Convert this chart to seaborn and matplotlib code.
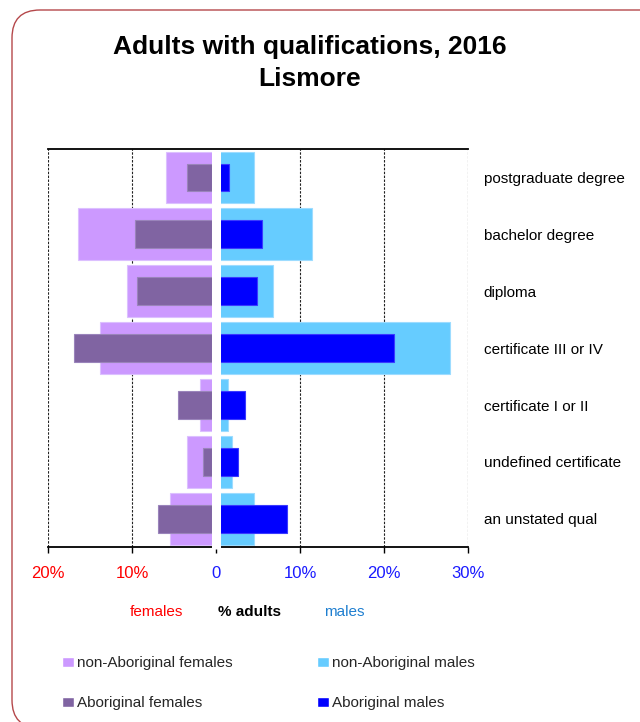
import matplotlib
matplotlib.use("Agg")
import matplotlib.pyplot as plt
import seaborn as sns
import pandas as pd
from matplotlib.patches import Patch, FancyBboxPatch

# Share of adults (%) by highest qualification, Lismore 2016
categories = [
    "postgraduate degree",
    "bachelor degree",
    "diploma",
    "certificate III or IV",
    "certificate I or II",
    "undefined certificate",
    "an unstated qual",
]
non_ab_females = [6.0, 16.5, 10.6, 13.9, 2.0, 3.5, 5.5]
ab_females = [3.5, 9.7, 9.5, 17.0, 4.6, 1.6, 7.0]
non_ab_males = [4.5, 11.4, 6.8, 27.8, 1.4, 1.9, 4.5]
ab_males = [1.5, 5.4, 4.8, 21.1, 3.4, 2.6, 8.4]

tick_values = [-20, -10, 0, 10, 20, 30]
tick_labels = ["20%", "10%", "0", "10%", "20%", "30%"]

COL_NAF = "#cc99ff"
COL_AF = "#8064a2"
COL_NAM = "#66ccff"
COL_AM = "#0000ff"

sns.set_theme(style="white")
plt.rcParams["font.family"] = ["Liberation Sans", "DejaVu Sans"]

df = pd.DataFrame({
    "qual": categories,
    "naf": [-v for v in non_ab_females],
    "af": [-v for v in ab_females],
    "nam": non_ab_males,
    "am": ab_males,
})

W, H = 640, 722
fig = plt.figure(figsize=(W / 100, H / 100), dpi=100)
ax = fig.add_axes([48.3 / W, 1 - 547.3 / H, 420 / W, 398.3 / H])

# wide bars behind, narrow bars in front
sns.barplot(data=df, x="naf", y="qual", order=categories, orient="h", color=COL_NAF,
            saturation=1, width=0.91, errorbar=None, edgecolor="#dcc0ff", linewidth=0.8, ax=ax)
sns.barplot(data=df, x="nam", y="qual", order=categories, orient="h", color=COL_NAM,
            saturation=1, width=0.91, errorbar=None, edgecolor="#9ddcff", linewidth=0.8, ax=ax)
sns.barplot(data=df, x="af", y="qual", order=categories, orient="h", color=COL_AF,
            saturation=1, width=0.49, errorbar=None, edgecolor="#9a84bb", linewidth=0.8, ax=ax)
sns.barplot(data=df, x="am", y="qual", order=categories, orient="h", color=COL_AM,
            saturation=1, width=0.49, errorbar=None, edgecolor="#3a3aff", linewidth=0.8, ax=ax)

ax.set_xlim(-20, 30)
ax.set_xlabel("")
ax.set_ylabel("")

# dashed vertical gridlines
for v in tick_values:
    if v != 0:
        ax.axvline(v, color="#222222", lw=0.8, ls=(0, (2.2, 1.3)), zorder=0.5)

# white separator between the two halves
ax.axvline(0, color="white", lw=6.5, ymin=-0.004, ymax=0.996, zorder=3,
           solid_capstyle="butt", clip_on=False)

for side in ("left", "right"):
    ax.spines[side].set_visible(False)
for side in ("top", "bottom"):
    ax.spines[side].set_visible(True)
    ax.spines[side].set_color("black")
    ax.spines[side].set_linewidth(1.3)

ax.set_xticks(tick_values)
ax.set_xticklabels(tick_labels, fontsize=12)
ax.tick_params(axis="x", bottom=True, direction="out", length=4.3, width=1.0,
               color="black", pad=9)
for lbl, v in zip(ax.get_xticklabels(), tick_values):
    lbl.set_color("#ff0000" if v < 0 else "#1a1aff")

ax.yaxis.tick_right()
ax.tick_params(axis="y", length=0, pad=11, labelsize=11, labelcolor="black")

# title
fig.text(310 / W, 1 - 47 / H, "Adults with qualifications, 2016", ha="center", va="center",
         fontsize=19, fontweight="bold", color="black")
fig.text(310 / W, 1 - 79 / H, "Lismore", ha="center", va="center",
         fontsize=19, fontweight="bold", color="black")

# axis caption row
fig.text(156 / W, 1 - 611.7 / H, "females", ha="center", va="center", fontsize=11, color="#ff0000")
fig.text(249 / W, 1 - 611.7 / H, "% adults", ha="center", va="center", fontsize=11,
         fontweight="bold", color="black")
fig.text(344.5 / W, 1 - 611.7 / H, "males", ha="center", va="center", fontsize=11, color="#1f7fd0")

handles = [
    Patch(facecolor=COL_NAF, label="non-Aboriginal females"),
    Patch(facecolor=COL_AF, label="Aboriginal females"),
    Patch(facecolor=COL_NAM, label="non-Aboriginal males"),
    Patch(facecolor=COL_AM, label="Aboriginal males"),
]
fig.legend(handles=handles, ncol=2, loc="upper left", bbox_to_anchor=(62 / W, 1 - 656 / H),
           frameon=False, fontsize=11, borderpad=0, borderaxespad=0,
           handlelength=0.8, handleheight=0.65, handletextpad=0.2,
           columnspacing=5.5, labelspacing=1.72)

# rounded outer frame, running past the right and bottom edges
frame = FancyBboxPatch((0.12, -0.06), 6.62, 7.18, boxstyle="round,pad=0,rounding_size=0.28",
                       transform=fig.dpi_scale_trans, facecolor="none", edgecolor="#b5484b",
                       linewidth=1.0, clip_on=False)
fig.add_artist(frame)

fig.savefig("out.png", dpi=100, facecolor="white")
